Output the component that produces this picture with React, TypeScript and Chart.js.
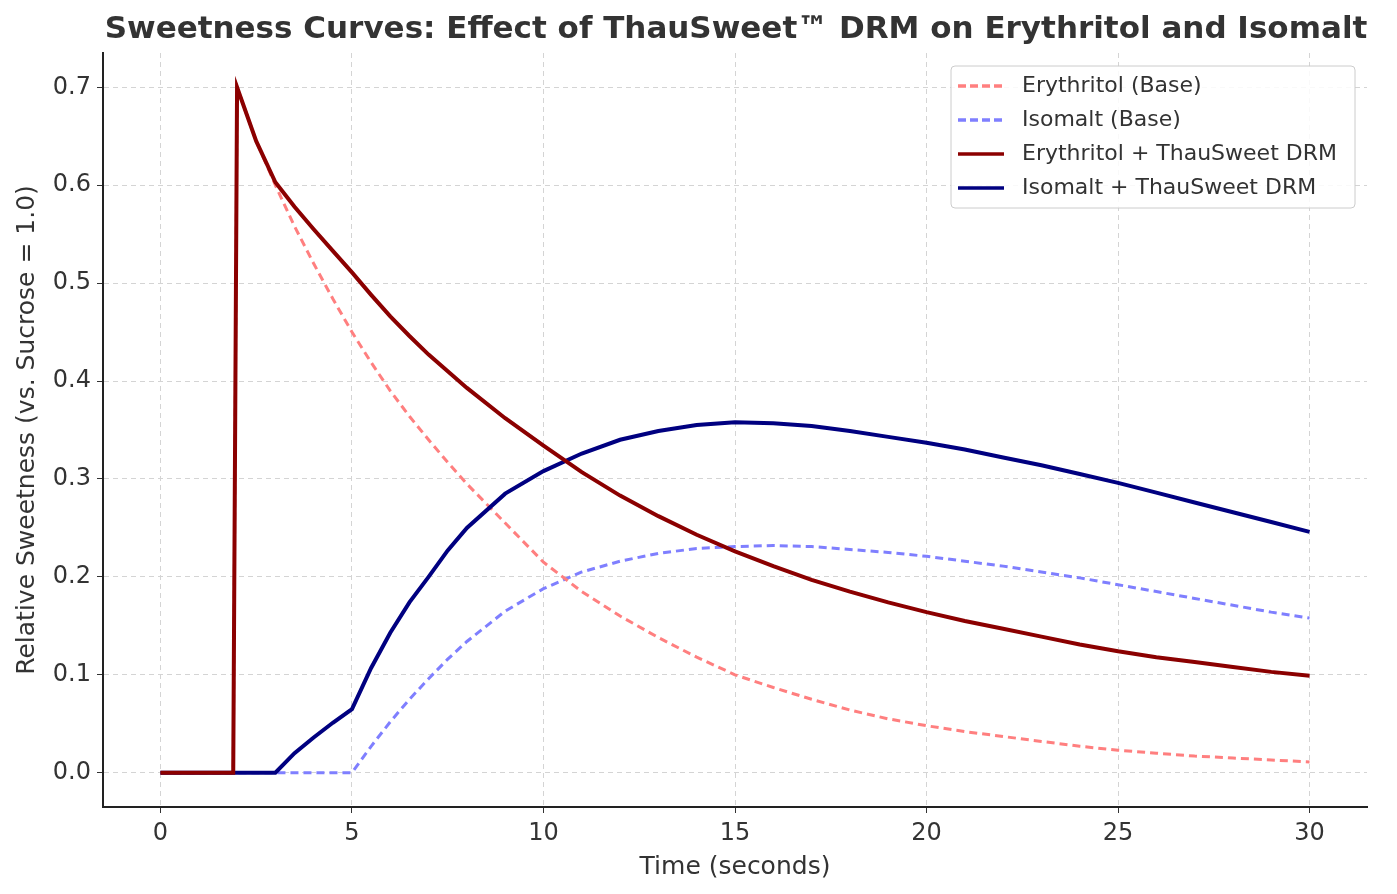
import React, { useEffect, useRef } from "react";
import { Chart, registerables } from "chart.js";
Chart.register(...registerables);

const times = [0, 1, 1.9, 2, 2.5, 3, 3.5, 4, 4.5, 5, 5.5, 6, 6.5, 7, 7.5, 8, 9, 10, 11, 12, 13, 14, 15, 16, 17, 18, 19, 20, 21, 22, 23, 24, 25, 26, 27, 28, 29, 30];
const erythritolBase = [0, 0, 0, 0.7, 0.645, 0.6, 0.558, 0.52, 0.484, 0.45, 0.419, 0.39, 0.364, 0.34, 0.317, 0.295, 0.255, 0.215, 0.185, 0.16, 0.138, 0.118, 0.1, 0.087, 0.075, 0.064, 0.055, 0.048, 0.042, 0.037, 0.032, 0.027, 0.023, 0.02, 0.017, 0.015, 0.013, 0.011];
const isomaltBase = [0, 0, 0, 0, 0, 0, 0, 0, 0, 0, 0.027, 0.052, 0.075, 0.096, 0.116, 0.134, 0.165, 0.188, 0.205, 0.216, 0.224, 0.229, 0.231, 0.232, 0.231, 0.228, 0.225, 0.221, 0.216, 0.211, 0.205, 0.199, 0.192, 0.185, 0.178, 0.171, 0.164, 0.158];
const erythritolDRM = [0, 0, 0, 0.7, 0.645, 0.603, 0.578, 0.555, 0.533, 0.511, 0.488, 0.466, 0.446, 0.427, 0.41, 0.393, 0.362, 0.334, 0.307, 0.283, 0.262, 0.243, 0.226, 0.211, 0.197, 0.185, 0.174, 0.164, 0.155, 0.147, 0.139, 0.131, 0.124, 0.118, 0.113, 0.108, 0.103, 0.099];
const isomaltDRM = [0, 0, 0, 0, 0, 0, 0.02, 0.036, 0.051, 0.065, 0.107, 0.143, 0.174, 0.2, 0.227, 0.25, 0.285, 0.308, 0.326, 0.34, 0.349, 0.355, 0.358, 0.357, 0.354, 0.349, 0.343, 0.337, 0.33, 0.322, 0.314, 0.305, 0.296, 0.286, 0.276, 0.266, 0.256, 0.246];
const xTicks = [0, 5, 10, 15, 20, 25, 30];
const yTicks = [0, 0.1, 0.2, 0.3, 0.4, 0.5, 0.6, 0.7];
const labels = ["Erythritol (Base)", "Isomalt (Base)", "Erythritol + ThauSweet DRM", "Isomalt + ThauSweet DRM"];
const colors = ["#ff7f7f", "#7f7fff", "#8b0000", "#000080"];
const title = "Sweetness Curves: Effect of ThauSweet™ DRM on Erythritol and Isomalt";
const FONT = "'DejaVu Sans', sans-serif";

export default function App() {
  const ref = useRef<HTMLCanvasElement>(null);
  useEffect(() => {
    const pts = (ys: number[]) => times.map((x, i) => ({ x, y: ys[i] }));
    const series = [erythritolBase, isomaltBase, erythritolDRM, isomaltDRM];
    const overlay = {
      id: "overlay",
      afterDraw(chart: any) {
        const c = chart.ctx;
        c.save();
        c.fillStyle = "#333";
        c.font = `bold 31px ${FONT}`;
        c.textAlign = "center";
        c.textBaseline = "middle";
        c.fillText(title, 736, 30);
        const bx = 951, by = 66, bw = 404, bh = 142;
        c.fillStyle = "rgba(255,255,255,0.85)";
        c.strokeStyle = "#ccc";
        c.lineWidth = 1;
        c.beginPath();
        (c as any).roundRect ? (c as any).roundRect(bx, by, bw, bh, 4) : c.rect(bx, by, bw, bh);
        c.fill();
        c.stroke();
        c.font = `22px ${FONT}`;
        c.textAlign = "left";
        labels.forEach((l, i) => {
          const yy = 86 + i * 34;
          c.strokeStyle = colors[i];
          c.lineWidth = 3.5;
          c.setLineDash(i < 2 ? [8, 4] : []);
          c.beginPath();
          c.moveTo(958, yy);
          c.lineTo(1004, yy);
          c.stroke();
          c.setLineDash([]);
          c.fillStyle = "#333";
          c.fillText(l, 1022, yy);
        });
        c.restore();
      },
    };
    const chart = new Chart(ref.current!, {
      type: "line",
      data: {
        datasets: series.map((s, i) => ({
          label: labels[i],
          data: pts(s),
          borderColor: colors[i],
          borderWidth: i < 2 ? 3 : 4,
          borderDash: i < 2 ? [8, 5] : [],
          pointRadius: 0,
          tension: 0,
          fill: false,
          order: i < 2 ? 2 : 1,
        })),
      },
      options: {
        animation: false,
        responsive: false,
        layout: { padding: { top: 53, right: 30, left: 0, bottom: 0 } },
        plugins: { legend: { display: false }, title: { display: false }, tooltip: { enabled: false } },
        scales: {
          x: {
            type: "linear",
            min: -1.5,
            max: 31.5,
            afterFit: (s: any) => { s.height = 87; },
            afterBuildTicks: (s: any) => { s.ticks = xTicks.map((v) => ({ value: v })); },
            ticks: { font: { size: 24, family: FONT }, color: "#333", padding: 6 },
            grid: { color: "#d4d4d4", tickLength: 6, tickColor: "#333" },
            border: { color: "#222", width: 2, dash: [5, 4] },
            title: { display: true, text: "Time (seconds)", font: { size: 25, family: FONT }, color: "#333", padding: { top: 0, bottom: 12 } },
          },
          y: {
            type: "linear",
            min: -0.035,
            max: 0.735,
            afterFit: (s: any) => { s.width = 103; },
            afterBuildTicks: (s: any) => { s.ticks = yTicks.map((v) => ({ value: v })); },
            ticks: { font: { size: 24, family: FONT }, color: "#333", padding: 6, callback: (v: any) => Number(v).toFixed(1) },
            grid: { color: "#d4d4d4", tickLength: 6, tickColor: "#333" },
            border: { color: "#222", width: 2, dash: [5, 4] },
            title: { display: true, text: "Relative Sweetness (vs. Sucrose = 1.0)", font: { size: 25, family: FONT }, color: "#333", padding: { top: 12, bottom: 0 } },
          },
        },
      } as any,
      plugins: [overlay],
    });
    return () => chart.destroy();
  }, []);
  return (
    <div style={{ position: "fixed", left: 0, top: 0, width: 1397, height: 894, background: "#fff" }}>
      <canvas ref={ref} width={1397} height={894} style={{ width: 1397, height: 894 }} />
    </div>
  );
}
